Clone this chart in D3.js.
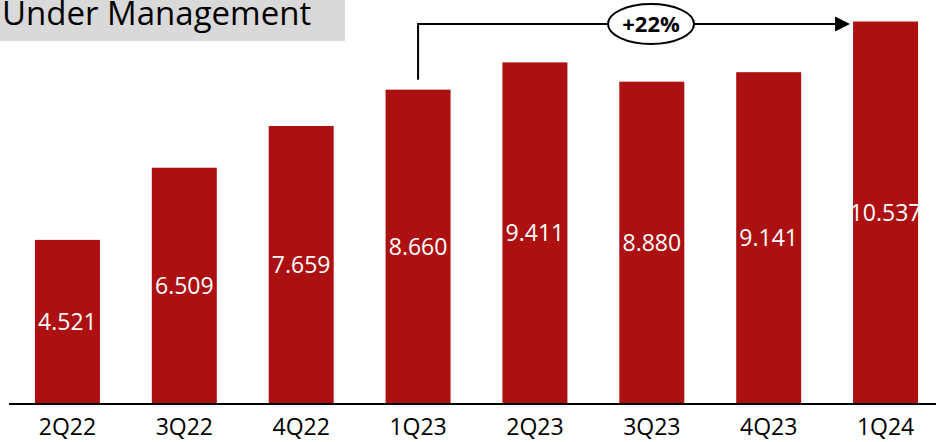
<!DOCTYPE html>
<html>
<head>
<meta charset="utf-8">
<script src="https://cdn.jsdelivr.net/npm/d3@7"></script>
<style>
  html, body { margin: 0; padding: 0; background: #ffffff; }
  svg { display: block; }
  text { font-family: "Open Sans", "DejaVu Sans", sans-serif; }
</style>
</head>
<body>
<svg id="chart" width="936" height="442"></svg>
<script>
// Assets under management by quarter
const quarters = ["2Q22", "3Q22", "4Q22", "1Q23", "2Q23", "3Q23", "4Q23", "1Q24"];
const aum = [4.521, 6.509, 7.659, 8.660, 9.411, 8.880, 9.141, 10.537];
const valueLabels = ["4.521", "6.509", "7.659", "8.660", "9.411", "8.880", "9.141", "10.537"];
const titleText = "Under Management";
const growthLabel = "+22%";
const growthFrom = "1Q23";
const growthTo = "1Q24";

const W = 936, H = 442;
const baseY = 404;
const barColor = "#ad1010";

const svg = d3.select("#chart");

const x = d3.scaleBand()
  .domain(quarters)
  .range([9, 944])
  .paddingInner(0.444)
  .paddingOuter(0.222);

const y = d3.scaleLinear()
  .domain([0, 11.13])
  .range([baseY, 0]);

// Title box
svg.append("rect")
  .attr("x", 0).attr("y", 0)
  .attr("width", 345).attr("height", 41)
  .attr("fill", "#d9d9d9");
svg.append("text")
  .attr("x", 2).attr("y", 24.5)
  .attr("font-size", 33)
  .attr("fill", "#000")
  .text(titleText);

const data = quarters.map((q, i) => ({ q, v: aum[i], label: valueLabels[i] }));

// Clip paths so value labels stay inside their bars
const defs = svg.append("defs");
defs.selectAll("clipPath")
  .data(data)
  .join("clipPath")
  .attr("id", (d, i) => "clip-" + i)
  .append("rect")
  .attr("x", d => x(d.q))
  .attr("y", d => y(d.v))
  .attr("width", x.bandwidth())
  .attr("height", d => baseY - y(d.v));

// Bars
svg.append("g")
  .selectAll("rect")
  .data(data)
  .join("rect")
  .attr("x", d => x(d.q))
  .attr("y", d => y(d.v))
  .attr("width", x.bandwidth())
  .attr("height", d => baseY - y(d.v))
  .attr("fill", barColor);

// Value labels, centred in each bar
svg.append("g")
  .selectAll("text")
  .data(data)
  .join("text")
  .attr("clip-path", (d, i) => `url(#clip-${i})`)
  .attr("x", d => x(d.q) + x.bandwidth() / 2)
  .attr("y", d => (y(d.v) + baseY) / 2)
  .attr("dy", "0.35em")
  .attr("text-anchor", "middle")
  .attr("font-size", 23)
  .attr("fill", "#ffffff")
  .text(d => d.label);

// Category axis
const xAxis = d3.axisBottom(x).tickSize(0).tickPadding(0);
const gx = svg.append("g")
  .attr("transform", `translate(0,${baseY})`)
  .call(xAxis);
gx.select(".domain").remove();
gx.selectAll("text")
  .attr("font-family", "\"Open Sans\", sans-serif")
  .attr("font-size", 23)
  .attr("fill", "#000")
  .attr("dy", null)
  .attr("y", 31);
svg.append("line")
  .attr("x1", 9).attr("x2", W)
  .attr("y1", baseY).attr("y2", baseY)
  .attr("stroke", "#000")
  .attr("stroke-width", 2);

// Growth bracket from 1Q23 to 1Q24
const vFrom = aum[quarters.indexOf(growthFrom)];
const vTo = aum[quarters.indexOf(growthTo)];
const xFrom = x(growthFrom) + x.bandwidth() / 2;
const xToEdge = x(growthTo) - 3;
const bracketY = 24;
const head = 15;

const ann = svg.append("g");
ann.append("path")
  .attr("d", `M${xFrom},${y(vFrom) - 10} V${bracketY} H${xToEdge - head}`)
  .attr("fill", "none")
  .attr("stroke", "#000")
  .attr("stroke-width", 2);
ann.append("path")
  .attr("d", `M${xToEdge - head},${bracketY - 7.5} L${xToEdge},${bracketY} L${xToEdge - head},${bracketY + 7.5} Z`)
  .attr("fill", "#000");

const cx = 651;
ann.append("ellipse")
  .attr("cx", cx).attr("cy", bracketY)
  .attr("rx", 43).attr("ry", 20)
  .attr("fill", "#fff")
  .attr("stroke", "#000")
  .attr("stroke-width", 2);
ann.append("text")
  .attr("x", cx).attr("y", bracketY)
  .attr("dy", "0.35em")
  .attr("text-anchor", "middle")
  .attr("font-size", 22)
  .attr("font-weight", 700)
  .attr("fill", "#000")
  .text(growthLabel);
</script>
</body>
</html>
